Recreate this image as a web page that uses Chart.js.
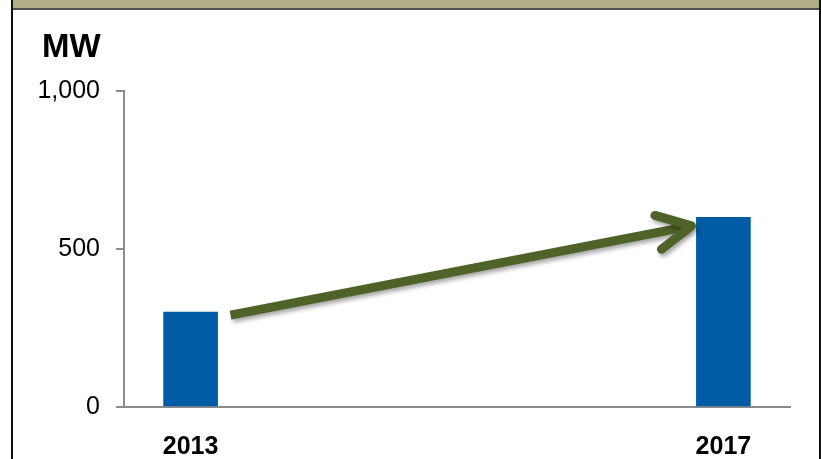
<!DOCTYPE html>
<html>
<head>
<meta charset="utf-8">
<script src="https://cdn.jsdelivr.net/npm/chart.js@4.4.1/dist/chart.umd.min.js"></script>
<style>
  html, body { margin: 0; padding: 0; background: #ffffff; }
  body { width: 821px; height: 459px; position: relative; overflow: hidden; }
  #band { position: absolute; left: 13px; top: 0; width: 806px; height: 8px; background: #b0ae84; border-bottom: 2px solid #505050; }
  #edgeL { position: absolute; left: 11px; top: 0; width: 2px; height: 459px; background: #111111; }
  #edgeR { position: absolute; left: 819px; top: 0; width: 2px; height: 459px; background: #111111; }
  #wrap { position: absolute; left: 13px; top: 10px; width: 806px; height: 449px; }
</style>
</head>
<body>
<div id="band"></div>
<div id="edgeL"></div>
<div id="edgeR"></div>
<div id="wrap"><canvas id="myBarChart"></canvas></div>
<script>
"use strict";

// Installed capacity in MW
const years = [2013, 2017];
const capacityMW = [300, 600];
const yTicks = [0, 500, 1000];
const unitLabel = "MW";

// Growth arrow drawn between two points in data units
const arrowFrom = { x: 2013.3, y: 291 };
const arrowTo = { x: 2016.76, y: 573 };

const FONT = "Arial, 'Liberation Sans', sans-serif";
const AXIS_GREY = "#8c8c8c";

// Draws the unit label and the green arrow on top of the bars
const overlayPlugin = {
	id: "overlay",
	afterDatasetsDraw(chart) {
		const ctx = chart.ctx;
		const xs = chart.scales.x;
		const ys = chart.scales.y;

		const x1 = xs.getPixelForValue(arrowFrom.x);
		const y1 = ys.getPixelForValue(arrowFrom.y);
		const x2 = xs.getPixelForValue(arrowTo.x);
		const y2 = ys.getPixelForValue(arrowTo.y);
		const angle = Math.atan2(y2 - y1, x2 - x1);
		const headLen = 38;
		const spread = 27 * Math.PI / 180;

		ctx.save();
		ctx.strokeStyle = "#4f6228";
		ctx.lineWidth = 9;
		ctx.shadowColor = "rgba(0, 0, 0, 0.35)";
		ctx.shadowBlur = 4;
		ctx.shadowOffsetX = 2;
		ctx.shadowOffsetY = 3;

		ctx.lineCap = "butt";
		ctx.beginPath();
		ctx.moveTo(x1, y1);
		ctx.lineTo(x2 - 4 * Math.cos(angle), y2 - 4 * Math.sin(angle));
		ctx.stroke();

		ctx.lineCap = "round";
		ctx.lineJoin = "round";
		ctx.beginPath();
		ctx.moveTo(x2 - headLen * Math.cos(angle - spread), y2 - headLen * Math.sin(angle - spread));
		ctx.lineTo(x2, y2);
		ctx.lineTo(x2 - headLen * Math.cos(angle + spread), y2 - headLen * Math.sin(angle + spread));
		ctx.stroke();
		ctx.restore();

		ctx.save();
		ctx.fillStyle = "#000000";
		ctx.font = "bold 33px " + FONT;
		ctx.textAlign = "left";
		ctx.textBaseline = "middle";
		ctx.fillText(unitLabel, 29, 38);
		ctx.restore();
	},
};

function generateBarChart() {
	const ctx = document.getElementById("myBarChart");

	new Chart(ctx, {
		type: "bar",
		data: {
			datasets: [
				{
					label: unitLabel,
					data: years.map((year, i) => ({ x: year, y: capacityMW[i] })),
					backgroundColor: "#005da5",
					borderWidth: 0,
					barThickness: 54,
				},
			],
		},
		options: {
			responsive: true,
			maintainAspectRatio: false,
			animation: false,
			layout: { padding: { top: 81, right: 29, left: 0, bottom: 0 } },
			plugins: {
				legend: { display: false },
				tooltip: { enabled: false },
			},
			scales: {
				x: {
					type: "linear",
					min: years[0] - 0.5,
					max: years[years.length - 1] + 0.5,
					offset: false,
					afterBuildTicks: function (scale) {
						scale.ticks = years.map((v) => ({ value: v }));
					},
					afterFit: function (scale) {
						scale.height = 52;
					},
					grid: { display: false },
					border: { display: true, color: AXIS_GREY, width: 2 },
					ticks: {
						color: "#000000",
						padding: 17,
						maxRotation: 0,
						font: { family: FONT, size: 25, weight: "bold" },
						callback: (v) => String(v),
					},
				},
				y: {
					min: 0,
					max: 1000,
					afterBuildTicks: function (scale) {
						scale.ticks = yTicks.map((v) => ({ value: v }));
					},
					afterFit: function (scale) {
						scale.width = 111;
					},
					grid: {
						drawOnChartArea: false,
						drawTicks: true,
						tickLength: 8,
						color: AXIS_GREY,
						lineWidth: 2,
					},
					border: { display: true, color: AXIS_GREY, width: 2 },
					ticks: {
						color: "#000000",
						padding: 16,
						font: { family: FONT, size: 25 },
						callback: (v) => v.toLocaleString("en-US"),
					},
				},
			},
		},
		plugins: [overlayPlugin],
	});
}

generateBarChart();
</script>
</body>
</html>
